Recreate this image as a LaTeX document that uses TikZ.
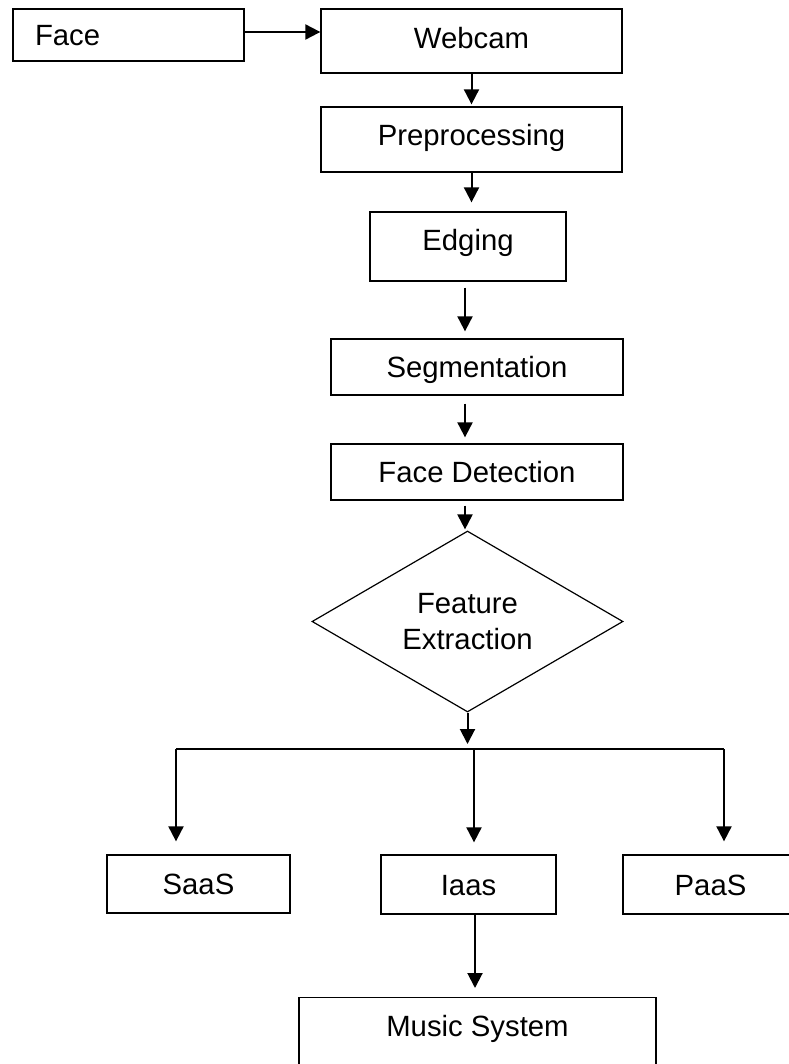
\documentclass[tikz,border=0pt]{standalone}
\usepackage{fontspec}
\setmainfont{Liberation Sans}
\usetikzlibrary{arrows.meta, positioning, shapes.geometric}

\begin{document}
\begin{tikzpicture}[x=1pt, y=-1pt,
    box/.style={draw, line width=1.3pt, font=\fontsize{29.3}{36}\selectfont,
      text height=21pt, text depth=0pt, inner sep=0pt},
    decision/.style={draw, diamond, line width=1.2pt, aspect=1.72,
      font=\fontsize{29.3}{36}\selectfont, align=center, inner sep=0pt,
      minimum width=311pt, minimum height=181pt},
    flow/.style={line width=2pt},
    arr/.style={flow, -{Triangle[length=15pt, width=15pt]}}]
          \useasboundingbox (0,0) rectangle (788,1064);
          \node[box, minimum width=231pt, minimum height=52pt, text width=187pt, align=left] (face) at (128.5,35) {Face};
          \node[box, minimum width=301pt, minimum height=64pt, text depth=6pt] (webcam) at (471.5,41) {Webcam};
          \node[box, minimum width=301pt, minimum height=65pt, text depth=9pt] (prep) at (471.5,139.5) {Preprocessing};
          \node[box, minimum width=196pt, minimum height=69pt, text depth=12pt] (edging) at (468,246.5) {Edging};
          \node[box, minimum width=292pt, minimum height=56pt] (seg) at (477,367) {Segmentation};
          \node[box, minimum width=292pt, minimum height=56pt] (facedet) at (477,472) {Face Detection};
          \node[decision] (feat) at (467.5,621.5) {Feature\\Extraction};
          \node[box, minimum width=183pt, minimum height=58pt] (saas) at (198.5,884) {SaaS};
          \node[box, minimum width=175pt, minimum height=59pt] (iaas) at (468.5,884.5) {Iaas};
          \node[box, minimum width=175pt, minimum height=59pt] (paas) at (710.5,884.5) {PaaS};
          \node[box, minimum width=357pt, text height=21pt, text depth=60pt, inner ysep=17.5pt, anchor=north] (music) at (477.5,997) {Music System};
          \coordinate (faceout) at ([yshift=3pt]face.east);
          \coordinate (edgeout) at ([xshift=-3pt]edging.south);
          \coordinate (segout) at ([xshift=-12pt]seg.south);
          \coordinate (detout) at ([xshift=-12pt]facedet.south);
          \coordinate (lft) at (176,749);
          \coordinate (mid) at (474,749);
          \coordinate (rgt) at (724,749);
          \draw[arr] (faceout) -- (faceout -| webcam.west);
          \draw[arr, shorten >=2pt] (webcam.south) -- (prep.north);
          \draw[arr, shorten >=9pt] (prep.south) -- (prep.south |- edging.north);
          \draw[arr, shorten <=6pt, shorten >=7pt] (edgeout) -- (edgeout |- seg.north);
          \draw[arr, shorten <=8pt, shorten >=6pt] (segout) -- (segout |- facedet.north);
          \draw[arr, shorten <=5pt, shorten >=1pt] (detout) -- (detout |- feat.north);
          \draw[arr, shorten >=5pt] (feat.south) -- (feat.south |- mid);
          \draw[flow] (lft) -- (rgt);
          \draw[arr, shorten >=13pt] (lft) -- (lft |- saas.north);
          \draw[arr, shorten >=12pt] (mid) -- (mid |- iaas.north);
          \draw[arr, shorten >=13pt] (rgt) -- (rgt |- paas.north);
          \draw[arr, shorten >=9pt] ([xshift=6.5pt]iaas.south) -- ([xshift=6.5pt]iaas.south |- music.north);
        \end{tikzpicture}
\end{document}
